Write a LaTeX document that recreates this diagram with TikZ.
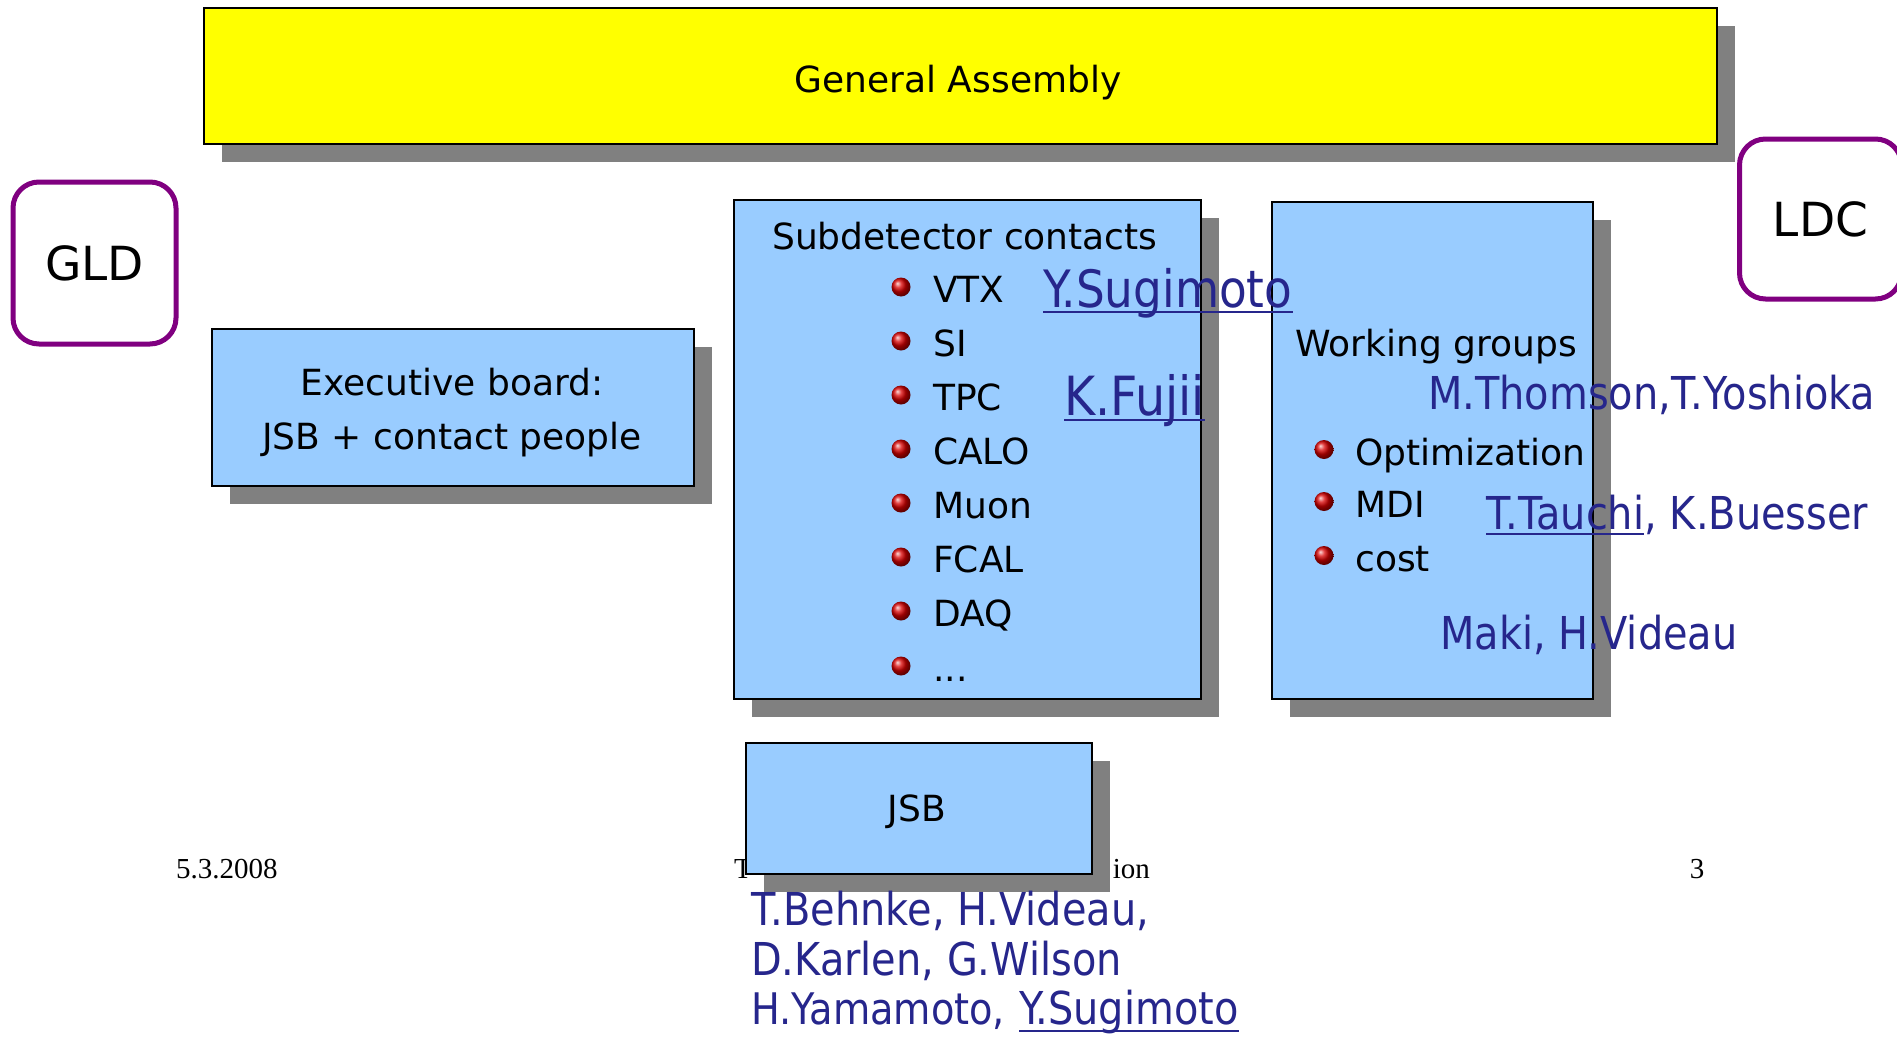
\documentclass[tikz,border=0pt]{standalone}
\usepackage{fontspec}
\setmainfont{DejaVu Sans}
\newfontfamily\bluefont{DejaVu Sans}[FakeStretch=0.88]
\newfontfamily\footfont{Liberation Serif}
\usetikzlibrary{shadows}
\definecolor{boxblue}{RGB}{153,204,255}
\definecolor{shgray}{RGB}{128,128,128}
\definecolor{namblue}{RGB}{38,38,140}
\definecolor{framepurple}{RGB}{128,0,128}
\definecolor{gayellow}{RGB}{255,255,0}
\newcommand\fsz[1]{\fontsize{#1}{#1}\selectfont}
\begin{document}
\begin{tikzpicture}[x=1pt,y=-1pt,
  shbox/.style={draw=black, line width=2pt, inner sep=0pt, fill=boxblue,
    drop shadow={shadow xshift=18pt, shadow yshift=-18pt, fill=shgray, opacity=1}},
  detbox/.style={draw=framepurple, line width=5pt, rounded corners=26pt, fill=white,
    inner sep=0pt, font=\fsz{47}},
  lbl/.style={inner sep=0pt, anchor=base west, font=\fsz{36}},
  ctr/.style={inner sep=0pt, anchor=base, font=\fsz{36}},
  nm/.style={inner sep=0pt, anchor=base west, text=namblue, font=\bluefont\fsz{45.3}},
  foot/.style={inner sep=0pt, font=\footfont\fsz{29}},
  uline/.style={draw=namblue, line width=2.5pt},
  bul/.style={ball color=red!85!black}
]
\fill[white] (0,0) rectangle (1897,1036);
\useasboundingbox (0,0) rectangle (1897,1036);

% General assembly
\node[shbox, fill=gayellow, anchor=north west, minimum width=1513pt, minimum height=136pt] (ga) at (203,7) {};
\node[ctr] (gat) at (958,92) {General Assembly};

% GLD / LDC
\node[detbox, anchor=north west, minimum width=163pt, minimum height=162pt] (gld) at (10.5,179.5) {GLD};
\node[detbox, anchor=north west, minimum width=162pt, minimum height=160pt] (ldc) at (1737,136.5) {LDC};

% Executive board
\node[shbox, anchor=north west, minimum width=482pt, minimum height=157pt] (exec) at (211,328) {};
\node[ctr] (ex1) at (452,395) {Executive board:};
\node[ctr] (ex2) at (452,449) {JSB + contact people};

% Subdetector contacts box
\node[shbox, anchor=north west, minimum width=467pt, minimum height=499pt] (sub) at (733,199) {};
% Working groups box
\node[shbox, anchor=north west, minimum width=321pt, minimum height=497pt] (wg) at (1271,201) {};

% footer
\node[foot, anchor=base west] (fdate) at (176,878) {5.3.2008};
\node[foot, anchor=base west] (ft) at (734,878) {T};
\node[foot, anchor=base east] (fion) at (1150,878) {ion};
\node[foot, anchor=base] (fpage) at (1697,878) {3};

% JSB box
\node[shbox, anchor=north west, minimum width=346pt, minimum height=131pt] (jsb) at (745,742) {};
\node[ctr] (jsbt) at (917,821) {JSB};

% Subdetector list
\node[lbl] (subt) at (772,249) {Subdetector contacts};
\foreach \t/\yy/\nm in {VTX/302/s1, SI/356/s2, TPC/410/s3, CALO/464/s4, Muon/518/s5, FCAL/572/s6, DAQ/626/s7}{
  \shade[bul] (901,\yy-15) circle (9.5pt);
  \node[lbl] (\nm) at (933,\yy) {\t};
}
\shade[bul] (901,666) circle (9.5pt);
\node[lbl] (s8) at (933,681) {...};

% Working groups list
\node[lbl] (wgt) at (1295,356) {Working groups};
\foreach \t/\yy/\nm in {Optimization/465/w1, MDI/517/w2, cost/571/w3}{
  \shade[bul] (1324,\yy-15.5) circle (9.5pt);
  \node[lbl] (\nm) at (1355,\yy) {\t};
}

% names
\node[nm, font=\bluefont\fsz{51.5}] (ys1) at (1043,307) {Y.Sugimoto};
\draw[uline] ([yshift=-5pt]ys1.base west) -- ([yshift=-5pt]ys1.base east);
\node[nm, font=\bluefont\fsz{54}] (kf) at (1064,415) {K.Fujii};
\draw[uline] ([yshift=-5pt]kf.base west) -- ([yshift=-5pt]kf.base east);
\node[nm] (mt) at (1428,409) {M.Thomson,T.Yoshioka};
\node[nm] (tt) at (1486,529) {T.Tauchi};
\node[nm] (kb) at (tt.base east) {, K.Buesser};
\draw[uline] ([yshift=-5pt]tt.base west) -- ([yshift=-5pt]tt.base east);
\node[nm] (mk) at (1440,649) {Maki, H.Videau};

\node[nm] (b1) at (751,925) {T.Behnke, H.Videau,};
\node[nm] (b2) at (751,975) {D.Karlen, G.Wilson};
\node[nm, font=\bluefont\fsz{43.5}] (b3) at (751,1024) {H.Yamamoto,};
\node[nm] (ys2) at (1019,1024) {Y.Sugimoto};
\draw[uline] ([yshift=-7pt]ys2.base west) -- ([yshift=-7pt]ys2.base east);
\end{tikzpicture}
\end{document}
